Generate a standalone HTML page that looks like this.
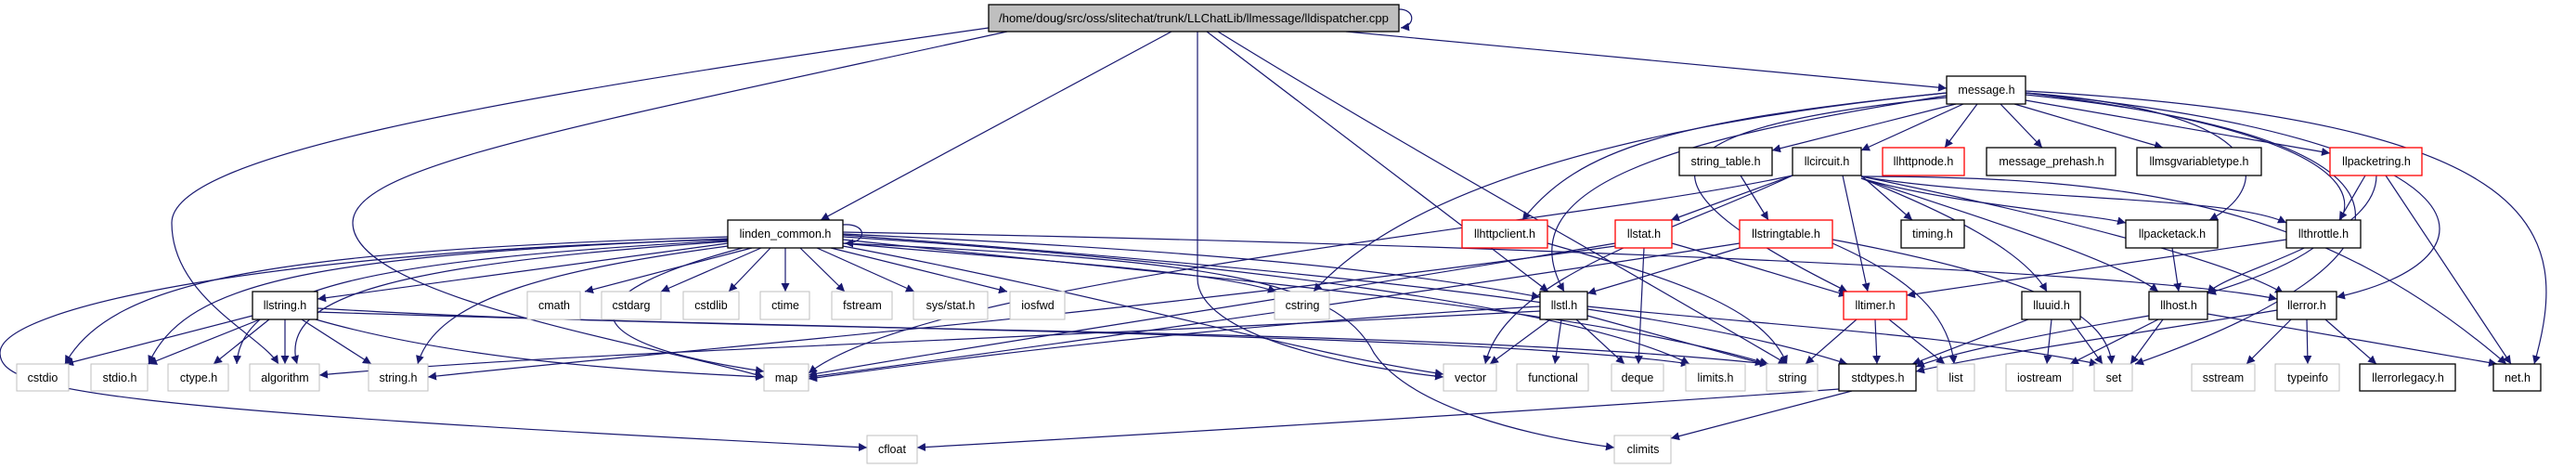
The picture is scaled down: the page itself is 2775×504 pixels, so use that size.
<!DOCTYPE html>
<html><head><meta charset="utf-8"><style>
html,body{margin:0;padding:0;background:#fff;}
svg{display:block;}
text{font-family:"Liberation Sans",sans-serif;font-size:12.5px;fill:#000;text-anchor:middle;}
.e{fill:none;stroke:#191970;stroke-width:1.2;marker-end:url(#a);}
.g{fill:#fff;stroke:#bfbfbf;stroke-width:1;}
.b{fill:#fff;stroke:#000;stroke-width:1.3;}
.r{fill:#fff;stroke:#ff0000;stroke-width:1.3;}
</style></head><body>
<svg width="2775" height="504" viewBox="0 0 2775 504" xmlns="http://www.w3.org/2000/svg">
<defs><marker id="a" viewBox="0 0 10 10" refX="10" refY="5" markerWidth="9" markerHeight="9" markerUnits="userSpaceOnUse" orient="auto"><path d="M0,0 L10,5 L0,10 z" fill="#191970"/></marker></defs>
<g>
<path class="e" d="M1507,10 C1525,10 1525,28 1509,30"/>
<path class="e" d="M1450,34 L2097,95"/>
<path class="e" d="M1262,34 L884,237"/>
<path class="e" d="M1065,30 C500,110 185,170 185,240 C185,320 280,360 300,392"/>
<path class="e" d="M1085,34 C600,140 380,180 380,240 C380,320 700,370 823,406"/>
<path class="e" d="M1290,34 L1290,300 C1290,360 1450,395 1555,406"/>
<path class="e" d="M1300,34 L1668,314"/>
<path class="e" d="M1312,34 C1500,150 1700,260 1925,392"/>
<path class="e" d="M810,267 L630,314"/>
<path class="e" d="M820,267 L712,314"/>
<path class="e" d="M830,267 L785,314"/>
<path class="e" d="M846,267 L846,314"/>
<path class="e" d="M862,267 L910,314"/>
<path class="e" d="M880,267 L985,314"/>
<path class="e" d="M895,267 L1085,314"/>
<path class="e" d="M908,262 C1100,280 1300,290 1375,314"/>
<path class="e" d="M784,262 L342,322"/>
<path class="e" d="M784,255 C300,270 120,300 70,392"/>
<path class="e" d="M784,257 C350,275 200,300 160,392"/>
<path class="e" d="M784,259 C400,280 260,310 255,392"/>
<path class="e" d="M784,260 C420,285 300,320 320,392"/>
<path class="e" d="M784,265 C600,290 470,320 450,392"/>
<path class="e" d="M800,267 C600,320 620,370 823,400"/>
<path class="e" d="M908,242 C935,240 935,262 910,262"/>
<path class="e" d="M784,258 C300,270 0,330 0,380 C0,420 100,440 934,482"/>
<path class="e" d="M908,265 C1200,320 1400,380 1555,403"/>
<path class="e" d="M908,258 C1300,300 1700,330 1905,392"/>
<path class="e" d="M908,255 C1300,280 1700,330 1820,392"/>
<path class="e" d="M908,250 C1500,260 2300,290 2453,322"/>
<path class="e" d="M908,253 C1400,290 1800,330 1990,392"/>
<path class="e" d="M908,262 C1300,280 1440,300 1480,380 C1520,440 1650,470 1739,482"/>
<path class="e" d="M908,252 C1300,270 1500,290 1659,320"/>
<path class="e" d="M272,340 L70,392"/>
<path class="e" d="M280,344 L160,392"/>
<path class="e" d="M290,344 L230,392"/>
<path class="e" d="M307,344 L307,392"/>
<path class="e" d="M325,344 L400,392"/>
<path class="e" d="M340,344 C500,390 700,400 823,406"/>
<path class="e" d="M342,332 C800,360 1500,350 1905,392"/>
<path class="e" d="M342,336 C900,355 1600,360 1820,392"/>
<path class="e" d="M2107,112 L1909,162"/>
<path class="e" d="M2115,112 L2005,162"/>
<path class="e" d="M2130,112 L2095,159"/>
<path class="e" d="M2155,112 L2200,159"/>
<path class="e" d="M2170,112 L2330,159"/>
<path class="e" d="M2182,108 L2510,165"/>
<path class="e" d="M2097,100 C1800,130 1700,160 1640,237"/>
<path class="e" d="M2097,100 C1700,140 1500,220 1415,314"/>
<path class="e" d="M2097,103 C1800,150 1620,200 1685,314"/>
<path class="e" d="M2097,105 C1750,140 1760,200 1990,314"/>
<path class="e" d="M2182,100 C2450,120 2450,200 2380,237"/>
<path class="e" d="M2182,100 C2600,150 2600,250 2378,316"/>
<path class="e" d="M2182,100 C2700,150 2700,280 2517,320"/>
<path class="e" d="M2182,98 C2750,130 2770,250 2730,392"/>
<path class="e" d="M2182,102 C2650,150 2620,280 2300,392"/>
<path class="e" d="M1931,189 L1800,237"/>
<path class="e" d="M1985,189 L2012,314"/>
<path class="e" d="M2005,189 L2060,237"/>
<path class="e" d="M2005,192 C2100,220 2250,230 2290,240"/>
<path class="e" d="M2005,190 C2150,215 2400,210 2463,240"/>
<path class="e" d="M2005,192 C2100,230 2180,270 2205,314"/>
<path class="e" d="M2005,192 C2150,240 2280,280 2325,314"/>
<path class="e" d="M2005,190 C2200,230 2400,280 2460,316"/>
<path class="e" d="M2005,190 C2300,190 2500,220 2700,392"/>
<path class="e" d="M1931,189 C1800,250 1620,300 1600,392"/>
<path class="e" d="M1931,189 C1700,240 1000,300 871,402"/>
<path class="e" d="M1875,189 L1905,237"/>
<path class="e" d="M2548,189 L2520,237"/>
<path class="e" d="M2560,189 C2560,260 2400,290 2378,316"/>
<path class="e" d="M2570,189 L2705,392"/>
<path class="e" d="M1667,262 C1800,300 1900,330 1925,392"/>
<path class="e" d="M1771,267 L1765,392"/>
<path class="e" d="M1740,262 C1400,320 1000,380 871,404"/>
<path class="e" d="M1801,262 C1900,290 1960,310 1990,318"/>
<path class="e" d="M1740,265 C1200,340 700,380 461,406"/>
<path class="e" d="M1874,267 L1710,316"/>
<path class="e" d="M1974,262 C2060,300 2100,340 2105,392"/>
<path class="e" d="M1974,258 C2200,300 2270,340 2275,392"/>
<path class="e" d="M1874,262 C1500,320 1000,390 871,406"/>
<path class="e" d="M2463,258 L2054,318"/>
<path class="e" d="M2340,267 L2347,314"/>
<path class="e" d="M1670,344 L1605,392"/>
<path class="e" d="M1682,344 L1675,392"/>
<path class="e" d="M1698,344 L1750,392"/>
<path class="e" d="M1710,340 L1900,392"/>
<path class="e" d="M1710,330 C1900,350 2100,360 2260,392"/>
<path class="e" d="M1659,330 C1300,350 1000,390 871,408"/>
<path class="e" d="M1659,335 C1000,370 600,380 344,404"/>
<path class="e" d="M2000,344 L1945,392"/>
<path class="e" d="M2020,344 L2022,392"/>
<path class="e" d="M2035,344 L2095,392"/>
<path class="e" d="M2185,344 L2060,392"/>
<path class="e" d="M2210,344 L2205,392"/>
<path class="e" d="M2230,344 L2265,392"/>
<path class="e" d="M2315,340 C2200,360 2100,380 2064,395"/>
<path class="e" d="M2325,344 L2230,392"/>
<path class="e" d="M2330,344 L2295,392"/>
<path class="e" d="M2378,338 L2690,392"/>
<path class="e" d="M2468,344 L2420,392"/>
<path class="e" d="M2485,344 L2486,392"/>
<path class="e" d="M2505,344 L2560,392"/>
<path class="e" d="M2453,334 C2300,360 2150,380 2064,400"/>
<path class="e" d="M1981,419 C1700,440 1200,470 988,482"/>
<path class="e" d="M1995,421 L1800,472"/>
</g>
<g>
<rect x="1065" y="5" width="442" height="29" fill="#bfbfbf" stroke="#000" stroke-width="1.3"/>
<text x="1286" y="24" textLength="420" lengthAdjust="spacingAndGlyphs">/home/doug/src/oss/slitechat/trunk/LLChatLib/llmessage/lldispatcher.cpp</text>
<rect class="b" x="2097" y="82" width="85" height="30"/><text x="2140" y="101">message.h</text>
<rect class="b" x="1809" y="159" width="100" height="30"/><text x="1859" y="178">string_table.h</text>
<rect class="b" x="1931" y="159" width="74" height="30"/><text x="1968" y="178">llcircuit.h</text>
<rect class="r" x="2028" y="159" width="88" height="30"/><text x="2072" y="178">llhttpnode.h</text>
<rect class="b" x="2140" y="159" width="139" height="30"/><text x="2210" y="178">message_prehash.h</text>
<rect class="b" x="2302" y="159" width="134" height="30"/><text x="2369" y="178">llmsgvariabletype.h</text>
<rect class="r" x="2510" y="159" width="99" height="30"/><text x="2560" y="178">llpacketring.h</text>
<rect class="b" x="784" y="237" width="124" height="30"/><text x="846" y="256">linden_common.h</text>
<rect class="r" x="1575" y="237" width="92" height="30"/><text x="1621" y="256">llhttpclient.h</text>
<rect class="r" x="1740" y="237" width="61" height="30"/><text x="1771" y="256">llstat.h</text>
<rect class="r" x="1874" y="237" width="100" height="30"/><text x="1924" y="256">llstringtable.h</text>
<rect class="b" x="2048" y="237" width="68" height="30"/><text x="2082" y="256">timing.h</text>
<rect class="b" x="2290" y="237" width="99" height="30"/><text x="2340" y="256">llpacketack.h</text>
<rect class="b" x="2463" y="237" width="80" height="30"/><text x="2503" y="256">llthrottle.h</text>
<rect class="b" x="272" y="314" width="70" height="30"/><text x="307" y="333">llstring.h</text>
<rect class="g" x="568" y="314" width="57" height="30"/><text x="597" y="333">cmath</text>
<rect class="g" x="648" y="314" width="64" height="30"/><text x="680" y="333">cstdarg</text>
<rect class="g" x="736" y="314" width="60" height="30"/><text x="766" y="333">cstdlib</text>
<rect class="g" x="819" y="314" width="53" height="30"/><text x="846" y="333">ctime</text>
<rect class="g" x="896" y="314" width="65" height="30"/><text x="929" y="333">fstream</text>
<rect class="g" x="984" y="314" width="80" height="30"/><text x="1024" y="333">sys/stat.h</text>
<rect class="g" x="1088" y="314" width="59" height="30"/><text x="1118" y="333">iosfwd</text>
<rect class="g" x="1373" y="314" width="59" height="30"/><text x="1403" y="333">cstring</text>
<rect class="b" x="1659" y="314" width="51" height="30"/><text x="1685" y="333">llstl.h</text>
<rect class="r" x="1986" y="314" width="68" height="30"/><text x="2020" y="333">lltimer.h</text>
<rect class="b" x="2178" y="314" width="63" height="30"/><text x="2210" y="333">lluuid.h</text>
<rect class="b" x="2315" y="314" width="63" height="30"/><text x="2347" y="333">llhost.h</text>
<rect class="b" x="2453" y="314" width="64" height="30"/><text x="2485" y="333">llerror.h</text>
<rect class="g" x="18" y="392" width="56" height="29"/><text x="46" y="411">cstdio</text>
<rect class="g" x="98" y="392" width="61" height="29"/><text x="129" y="411">stdio.h</text>
<rect class="g" x="181" y="392" width="65" height="29"/><text x="214" y="411">ctype.h</text>
<rect class="g" x="269" y="392" width="75" height="29"/><text x="307" y="411">algorithm</text>
<rect class="g" x="397" y="392" width="64" height="29"/><text x="429" y="411">string.h</text>
<rect class="g" x="823" y="392" width="48" height="29"/><text x="847" y="411">map</text>
<rect class="g" x="1555" y="392" width="57" height="29"/><text x="1584" y="411">vector</text>
<rect class="g" x="1634" y="392" width="77" height="29"/><text x="1673" y="411">functional</text>
<rect class="g" x="1736" y="392" width="56" height="29"/><text x="1764" y="411">deque</text>
<rect class="g" x="1816" y="392" width="64" height="29"/><text x="1848" y="411">limits.h</text>
<rect class="g" x="1903" y="392" width="55" height="29"/><text x="1931" y="411">string</text>
<rect class="b" x="1981" y="392" width="83" height="29"/><text x="2023" y="411">stdtypes.h</text>
<rect class="g" x="2087" y="392" width="40" height="29"/><text x="2107" y="411">list</text>
<rect class="g" x="2161" y="392" width="72" height="29"/><text x="2197" y="411">iostream</text>
<rect class="g" x="2256" y="392" width="41" height="29"/><text x="2277" y="411">set</text>
<rect class="g" x="2361" y="392" width="68" height="29"/><text x="2395" y="411">sstream</text>
<rect class="g" x="2451" y="392" width="69" height="29"/><text x="2486" y="411">typeinfo</text>
<rect class="b" x="2542" y="392" width="103" height="29"/><text x="2594" y="411">llerrorlegacy.h</text>
<rect class="b" x="2686" y="392" width="51" height="29"/><text x="2712" y="411">net.h</text>
<rect class="g" x="934" y="469" width="54" height="30"/><text x="961" y="488">cfloat</text>
<rect class="g" x="1739" y="469" width="61" height="30"/><text x="1770" y="488">climits</text>
</g>
</svg>
</body></html>
